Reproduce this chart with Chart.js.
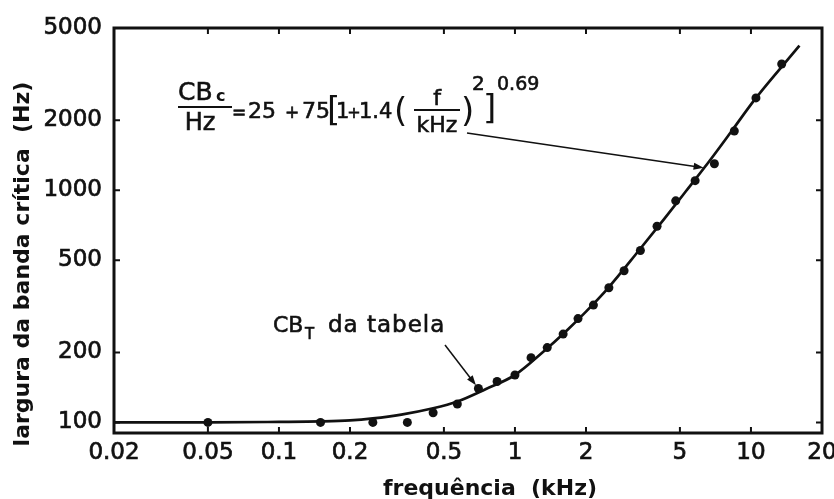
<!DOCTYPE html>
<html>
<head>
<meta charset="utf-8">
<script src="https://cdn.jsdelivr.net/npm/chart.js@4/dist/chart.umd.min.js"></script>
<style>
  html, body { margin: 0; padding: 0; background: #fff; }
</style>
</head>
<body>
<canvas id="cb" width="834" height="499"></canvas>
<script>
// pontos da tabela (CB_T) e curva ajustada
const freqTable = [0.05, 0.15, 0.25, 0.35, 0.45, 0.57, 0.7, 0.84, 1.0, 1.17, 1.37, 1.6, 1.85, 2.15, 2.5, 2.9, 3.4, 4.0, 4.8, 5.8, 7.0, 8.5, 10.5, 13.5]
const bwTable   = [100, 100, 100, 100, 110, 120, 140, 150, 160, 190, 210, 240, 280, 320, 380, 450, 550, 700, 900, 1100, 1300, 1800, 2500, 3500]

const freqCurve = [0.02, 0.05, 0.1, 0.15, 0.2, 0.25, 0.33, 0.45, 0.57, 0.75, 1.0, 1.3, 1.68, 2.0, 2.47, 3.35, 4.3, 5.3, 6.67, 8.27, 10.35, 13.6, 16.05]
const bwCurve   = [100, 100, 100.5, 101, 102, 104, 108, 115, 123, 139, 160, 199, 252, 300, 377, 550, 755, 990, 1337, 1795, 2450, 3435, 4200]

const xTickValues = [0.02, 0.05, 0.1, 0.2, 0.5, 1, 2, 5, 10, 20]
const xTickLabels = ['0.02', '0.05', '0.1', '0.2', '0.5', '1', '2', '5', '10', '20']
const yTickValues = [100, 200, 500, 1000, 2000, 5000]
const yTickLabels = ['100', '200', '500', '1000', '2000', '5000']

const xTitle = 'frequência  (kHz)'
const yTitle = 'largura da banda crítica  (Hz)'

// onde as setas apontam (kHz, Hz)
const formulaArrowTip = [6.3, 1250]
const tableArrowTip   = [0.7, 140]

const INK = '#111'
const FONT = '"DejaVu Sans"'

function txt(ctx, s, x, y, size, opt = {}) {
  ctx.font = (opt.bold ? 'bold ' : '') + size + 'px ' + FONT
  ctx.textAlign = opt.align || 'left'
  ctx.textBaseline = 'alphabetic'
  ctx.letterSpacing = opt.ls || '0px'
  ctx.fillText(s, x, y)
  const sw = opt.sw === undefined ? 0.6 : opt.sw
  if (sw > 0) {
    ctx.lineWidth = sw
    ctx.strokeText(s, x, y)
  }
  ctx.letterSpacing = '0px'
}

function arrow(ctx, x0, y0, x1, y1) {
  const a = Math.atan2(y1 - y0, x1 - x0), L = 10, W = 3.5
  const c = Math.cos(a), s = Math.sin(a)
  ctx.lineWidth = 1.5
  ctx.beginPath()
  ctx.moveTo(x0, y0)
  ctx.lineTo(x1 - L * c * 0.7, y1 - L * s * 0.7)
  ctx.stroke()
  ctx.beginPath()
  ctx.moveTo(x1, y1)
  ctx.lineTo(x1 - L * c + W * s, y1 - L * s - W * c)
  ctx.lineTo(x1 - L * c - W * s, y1 - L * s + W * c)
  ctx.closePath()
  ctx.fill()
}

// moldura com os 4 lados e marcas para dentro
const frame = {
  id: 'frame',
  afterDatasetsDraw(chart) {
    const { ctx, chartArea: a, scales: { x, y } } = chart
    ctx.save()
    ctx.strokeStyle = INK
    ctx.lineWidth = 2
    ctx.beginPath()
    xTickValues.forEach(v => {
      const px = x.getPixelForValue(v)
      ctx.moveTo(px, a.bottom); ctx.lineTo(px, a.bottom - 6)
      ctx.moveTo(px, a.top); ctx.lineTo(px, a.top + 6)
    })
    yTickValues.forEach(v => {
      const py = y.getPixelForValue(v)
      ctx.moveTo(a.left, py); ctx.lineTo(a.left + 6, py)
      ctx.moveTo(a.right, py); ctx.lineTo(a.right - 6, py)
    })
    ctx.stroke()
    ctx.lineWidth = 3
    ctx.strokeRect(a.left, a.top, a.right - a.left, a.bottom - a.top)
    ctx.restore()
  }
}

// títulos dos eixos, fórmula e rótulo da tabela
const notes = {
  id: 'notes',
  afterDraw(chart) {
    const { ctx, chartArea: a, scales: { x, y } } = chart
    ctx.save()
    ctx.fillStyle = INK
    ctx.strokeStyle = INK

    // títulos
    txt(ctx, xTitle, 490, 495, 22, { bold: true, align: 'center', sw: 0 })
    ctx.save()
    ctx.translate(29, 264)
    ctx.rotate(-Math.PI / 2)
    txt(ctx, yTitle, 0, 0, 22, { bold: true, align: 'center', sw: 0 })
    ctx.restore()

    // fórmula
    const fx = a.left + 64, fy = a.top + 79
    txt(ctx, 'CB', fx, fy - 7, 25)
    txt(ctx, 'c', fx + 38, fy - 6, 16, { bold: true, sw: 0 })
    ctx.lineWidth = 2
    ctx.beginPath(); ctx.moveTo(fx, fy); ctx.lineTo(fx + 54, fy); ctx.stroke()
    txt(ctx, 'Hz', fx + 22, fy + 23, 24, { align: 'center' })
    txt(ctx, '=', fx + 54, fy + 11, 17)
    txt(ctx, '25', fx + 70, fy + 11, 22)
    txt(ctx, '+', fx + 114, fy + 11, 17, { align: 'center' })
    txt(ctx, '75', fx + 124, fy + 11, 22)
    txt(ctx, '[', fx + 149, fy + 14, 34, { sw: 0 })
    txt(ctx, '1', fx + 158, fy + 11, 21)
    txt(ctx, '+', fx + 176, fy + 11, 16, { align: 'center' })
    txt(ctx, '1.4', fx + 181, fy + 11, 21)
    txt(ctx, '(', fx + 216, fy + 15, 34, { sw: 0 })
    txt(ctx, 'f', fx + 259, fy - 2, 22, { align: 'center' })
    ctx.lineWidth = 2
    ctx.beginPath(); ctx.moveTo(fx + 236, fy + 3); ctx.lineTo(fx + 282, fy + 3); ctx.stroke()
    txt(ctx, 'kHz', fx + 259, fy + 25, 22, { align: 'center' })
    txt(ctx, ')', fx + 283, fy + 15, 34, { sw: 0 })
    txt(ctx, '2', fx + 294, fy - 17, 20)
    txt(ctx, ']', fx + 305, fy + 12, 34, { sw: 0 })
    txt(ctx, '0.69', fx + 319, fy - 17, 19)

    arrow(ctx, fx + 289, fy + 26,
      x.getPixelForValue(formulaArrowTip[0]), y.getPixelForValue(formulaArrowTip[1]))

    // rótulo CB_T
    const tx = a.left + 159, ty = a.top + 304
    txt(ctx, 'CB', tx, ty, 22)
    txt(ctx, 'T', tx + 32, ty + 7, 15)
    txt(ctx, 'da tabela', tx + 55, ty, 23, { ls: '1px' })
    const dx = x.getPixelForValue(tableArrowTip[0]), dy = y.getPixelForValue(tableArrowTip[1])
    const x0 = tx + 172, y0 = ty + 13
    const d = Math.hypot(dx - x0, dy - y0)
    arrow(ctx, x0, y0, dx - (dx - x0) * 4 / d, dy - (dy - y0) * 4 / d)

    ctx.restore()
  }
}

const tickFont = { family: 'DejaVu Sans', size: 23 }

new Chart(document.getElementById('cb'), {
  type: 'scatter',
  data: {
    datasets: [
      {
        label: 'CB_T da tabela',
        data: freqTable.map((f, i) => ({ x: f, y: bwTable[i] })),
        pointRadius: 4.5,
        pointBackgroundColor: INK,
        pointBorderWidth: 0,
        order: 0
      },
      {
        type: 'line',
        label: 'CB_c',
        data: freqCurve.map((f, i) => ({ x: f, y: bwCurve[i] })),
        borderColor: INK,
        borderWidth: 2.7,
        pointRadius: 0,
        cubicInterpolationMode: 'monotone',
        fill: false,
        order: 1
      }
    ]
  },
  options: {
    responsive: false,
    animation: false,
    devicePixelRatio: 1,
    layout: { padding: { top: 28, right: 12, left: 0, bottom: 0 } },
    plugins: { legend: { display: false }, tooltip: { enabled: false } },
    scales: {
      x: {
        type: 'logarithmic',
        min: 0.02,
        max: 20,
        afterBuildTicks: s => { s.ticks = xTickValues.map(v => ({ value: v })) },
        afterFit: s => { s.height = 66; s.paddingLeft = 0; s.paddingRight = 0 },
        grid: { display: false, drawTicks: false },
        border: { display: false },
        ticks: {
          autoSkip: false, maxRotation: 0, padding: 6, color: INK, font: tickFont,
          textStrokeColor: INK, textStrokeWidth: 0.7,
          callback: (v, i) => xTickLabels[i]
        }
      },
      y: {
        type: 'logarithmic',
        min: 90,
        max: 5000,
        afterBuildTicks: s => { s.ticks = yTickValues.map(v => ({ value: v })) },
        afterFit: s => { s.width = 114; s.paddingTop = 0; s.paddingBottom = 0 },
        grid: { display: false, drawTicks: false },
        border: { display: false },
        ticks: {
          autoSkip: false, padding: 12, color: INK, font: tickFont,
          textStrokeColor: INK, textStrokeWidth: 0.7,
          callback: (v, i) => yTickLabels[i]
        }
      }
    }
  },
  plugins: [frame, notes]
})
</script>
</body>
</html>
